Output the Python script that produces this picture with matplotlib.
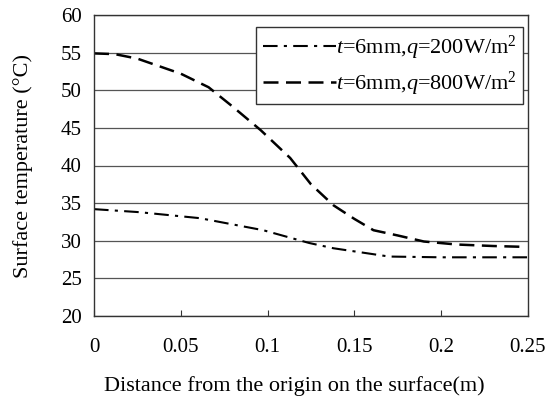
import matplotlib
matplotlib.use('Agg')
import matplotlib.pyplot as plt

plt.rcParams['font.family'] = 'Liberation Serif'
plt.rcParams['mathtext.fontset'] = 'custom'
plt.rcParams['mathtext.rm'] = 'Liberation Serif'
plt.rcParams['mathtext.it'] = 'Liberation Serif:italic'

# readings from the reference chart
x_200 = [0.0, 0.026, 0.061, 0.0975, 0.124, 0.138, 0.17, 0.20, 0.25]
t_200 = [34.2, 33.8, 33.0, 31.4, 29.7, 29.0, 27.9, 27.8, 27.8]

x_800 = [0.0, 0.012, 0.025, 0.05, 0.066, 0.08, 0.096, 0.113, 0.125, 0.138, 0.15, 0.161, 0.175, 0.19, 0.209, 0.23, 0.246]
t_800 = [54.9, 54.8, 54.2, 52.2, 50.4, 47.8, 44.7, 41.0, 37.5, 34.7, 32.9, 31.4, 30.7, 29.9, 29.5, 29.3, 29.2]

labels = [r'$\it{t}$=6mm,$\it{q}$=200W/m$^2$', r'$\it{t}$=6mm,$\it{q}$=800W/m$^2$']

fig = plt.figure(figsize=(5.45, 4.05), dpi=100)
ax = fig.add_axes([94 / 545, 1 - 316 / 405, 434 / 545, 301 / 405])

ax.plot(x_200, t_200, color='black', lw=1.5, dashes=(7, 3, 1.5, 3), label=labels[0])
ax.plot(x_800, t_800, color='black', lw=1.8, dashes=(6, 3), label=labels[1])

ax.set_xlim(0, 0.25)
ax.set_ylim(20, 60)
ax.set_xticks([0, 0.05, 0.1, 0.15, 0.2, 0.25])
ax.set_xticklabels(['0', '0.05', '0.1', '0.15', '0.2', '0.25'])
ax.set_yticks(range(20, 61, 5))
ax.yaxis.grid(True, color='#555555', lw=0.9)
ax.set_axisbelow(True)
ax.tick_params(axis='x', direction='in', length=4, labelsize=15, pad=16, color='#333333')
ax.tick_params(axis='y', length=0, labelsize=15, pad=9)
for s in ax.spines.values():
    s.set_color('#333333')
    s.set_linewidth(1.0)

ax.set_xlabel('Distance from the origin on the surface(m)', fontsize=16, va='top')
ax.xaxis.set_label_coords((294 - 94) / 434, (316 - 376) / 301)
ax.set_ylabel('Surface temperature (°C)', fontsize=16)
ax.yaxis.set_label_coords((33 - 94) / 434, 0.5)

leg = ax.legend(loc='upper right', bbox_to_anchor=(0.989, 0.961), fontsize=16,
                handlelength=3.3, handletextpad=0.0, fancybox=False,
                framealpha=1, edgecolor='#333333', borderpad=0.3, labelspacing=0.35,
                borderaxespad=0)
leg.get_frame().set_linewidth(1.0)

fig.savefig('out.png', dpi=100)
